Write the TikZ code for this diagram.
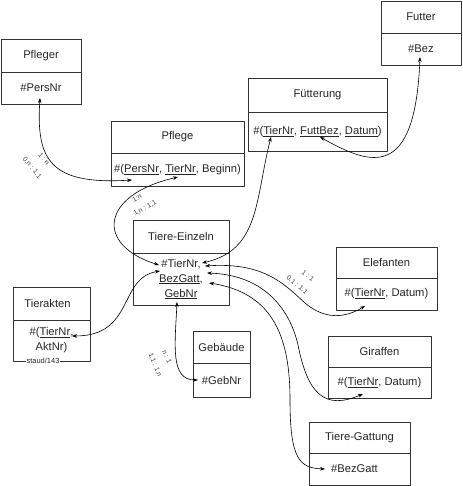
\documentclass[tikz,border=0pt]{standalone}
\usepackage{fontspec}
\setmainfont{Liberation Sans}
\usetikzlibrary{arrows.meta,positioning}

\definecolor{boxline}{HTML}{333333}

\begin{document}
\begin{tikzpicture}[
	x=1pt, y=-1pt,
	every node/.style={font=\fontsize{11.2}{15}\selectfont, text=black!85},
	entity/.style={draw=boxline, line width=0.8pt, inner sep=2pt, outer sep=0pt, anchor=north west},
	keyrow/.style={draw=boxline, line width=0.8pt, inner sep=2pt, outer sep=0pt, align=center},
	link/.style={line width=0.6pt, {Stealth[length=5pt,width=3.6pt]}-{Stealth[length=5pt,width=3.6pt]}},
	card/.style={font=\fontsize{6.8}{6.8}\selectfont, inner sep=0pt, text=black!75},
	line cap=round,
	line join=round
	]
	
	\useasboundingbox (0,0) rectangle (462,486);
	
	% Pfleger
	\node[entity, minimum width=80pt, minimum height=33pt] (pfleger) at (1,39) {Pfleger};
	\node[keyrow, minimum width=80pt, minimum height=32pt, below=0pt of pfleger] (pflegerkey) {\#PersNr};
	
	% Pflege
	\node[entity, minimum width=133pt, minimum height=32pt] (pflege) at (111,121) {Pflege};
	\node[keyrow, minimum width=133pt, minimum height=33pt, below=0pt of pflege] (pflegekey) {\#(\underline{PersNr}, \underline{TierNr}, Beginn)};
	
	% Fuetterung
	\node[entity, minimum width=139pt, minimum height=34pt] (fuett) at (248,78) {Fütterung};
	\node[keyrow, minimum width=139pt, minimum height=39pt, below=0pt of fuett] (fuettkey) {\#(\underline{TierNr}, \underline{FuttBez}, \underline{Datum})};
	
	% Futter
	\node[entity, minimum width=80pt, minimum height=32pt] (futter) at (381,1) {Futter};
	\node[keyrow, minimum width=80pt, minimum height=32pt, below=0pt of futter] (futterkey) {\#Bez};
	
	% Tiere-Einzeln
	\node[entity, minimum width=96pt, minimum height=33pt] (einzeln) at (133,220) {Tiere-Einzeln};
	\node[keyrow, minimum width=96pt, minimum height=52pt, below=0pt of einzeln] (einzelnkey) {\#TierNr,\\\underline{BezGatt},\\\underline{GebNr}};
	
	% Tierakten
	\node[entity, minimum width=77pt, minimum height=33pt] (akten) at (13,287) {Tierakten\hspace*{8pt}};
	\node[keyrow, minimum width=77pt, minimum height=41pt, below=0pt of akten] (aktenkey) {\#(\underline{TierNr},\\AktNr)};
	\node[fill=white, inner sep=0.5pt, font=\fontsize{7.5}{7.5}\selectfont] (staud) at (43,361) {staud/143};
	
	% Gebaeude
	\node[entity, minimum width=57pt, minimum height=32pt] (gebaeude) at (193,331) {Gebäude};
	\node[keyrow, minimum width=57pt, minimum height=34pt, below=0pt of gebaeude] (gebaeudekey) {\#GebNr};
	
	% Elefanten
	\node[entity, minimum width=101pt, minimum height=31pt] (elef) at (336,247) {Elefanten};
	\node[keyrow, minimum width=101pt, minimum height=32pt, below=0pt of elef] (elefkey) {\#(\underline{TierNr}, Datum)};
	
	% Giraffen
	\node[entity, minimum width=103pt, minimum height=31pt] (giraf) at (328,336) {Giraffen};
	\node[keyrow, minimum width=103pt, minimum height=31pt, below=0pt of giraf] (girafkey) {\#(\underline{TierNr}, Datum)};
	
	% Tiere-Gattung
	\node[entity, minimum width=101pt, minimum height=31pt] (gattung) at (309,422) {Tiere-Gattung};
	\node[keyrow, minimum width=101pt, minimum height=32pt, below=0pt of gattung] (gattungkey) {\#BezGatt\hspace*{10pt}};
	
	% Connector ends
	\coordinate (pflegerPers) at (40,98);
	\coordinate (pflegePers) at (132,180);
	\coordinate (pflegeTier) at (178,177);
	\coordinate (fuettTier) at (271,137);
	\coordinate (fuettBez) at (320,137);
	\coordinate (futterBez) at (420,57);
	\coordinate (einzTierA) at (159,265);
	\coordinate (einzTierB) at (160,271);
	\coordinate (einzTierC) at (202,263);
	\coordinate (einzTierD) at (205,266);
	\coordinate (einzTierE) at (207,273);
	\coordinate (einzBez) at (209,283);
	\coordinate (einzGeb) at (177,302);
	\coordinate (aktenTier) at (72,336);
	\coordinate (gebGeb) at (198,380);
	\coordinate (elefTier) at (365,306);
	\coordinate (girafTier) at (363,394);
	\coordinate (gattBez) at (325,469);
	
	% Relations
	\draw[link] (pflegerPers) .. controls (36,160) and (50,185) .. (pflegePers);
	\draw[link] (pflegeTier) .. controls (100,195) and (95,245) .. (einzTierA);
	\draw[link] (fuettTier) .. controls (255,200) and (260,250) .. (einzTierC);
	\draw[link] (fuettBez) .. controls (370,165) and (415,182) .. (futterBez);
	\draw[link] (einzTierD) .. controls (265,262) and (285,285) .. (305,303)
		.. controls (325,320) and (345,318) .. (elefTier);
	\draw[link] (einzTierE) .. controls (265,275) and (290,310) .. (298,345)
		.. controls (308,395) and (325,410) .. (girafTier);
	\draw[link] (einzBez) .. controls (275,293) and (290,340) .. (290,400)
		.. controls (290,460) and (300,468) .. (gattBez);
	\draw[link] (aktenTier) .. controls (135,336) and (118,278) .. (einzTierB);
	\draw[link] (einzGeb) .. controls (175,345) and (170,380) .. (gebGeb);
	
	% Cardinalities
	\node[card, rotate=-50] (cardA1) at (44,159) {1 : n};
	\node[card, rotate=-50] (cardA2) at (32,168) {0,n : 1,1};
	\node[card, rotate=30] (cardB1) at (137,198) {1:n};
	\node[card, rotate=30] (cardB2) at (145,208) {1,n : 1,1};
	\node[card, rotate=-40] (cardC1) at (308,276) {1 : 1};
	\node[card, rotate=-40] (cardC2) at (297,285) {0,1 : 1,1};
	\node[card, rotate=-68] (cardD1) at (167,357) {n : 1};
	\node[card, rotate=-68] (cardD2) at (155,365) {1,1 : 1,n};
	
\end{tikzpicture}
\end{document}
